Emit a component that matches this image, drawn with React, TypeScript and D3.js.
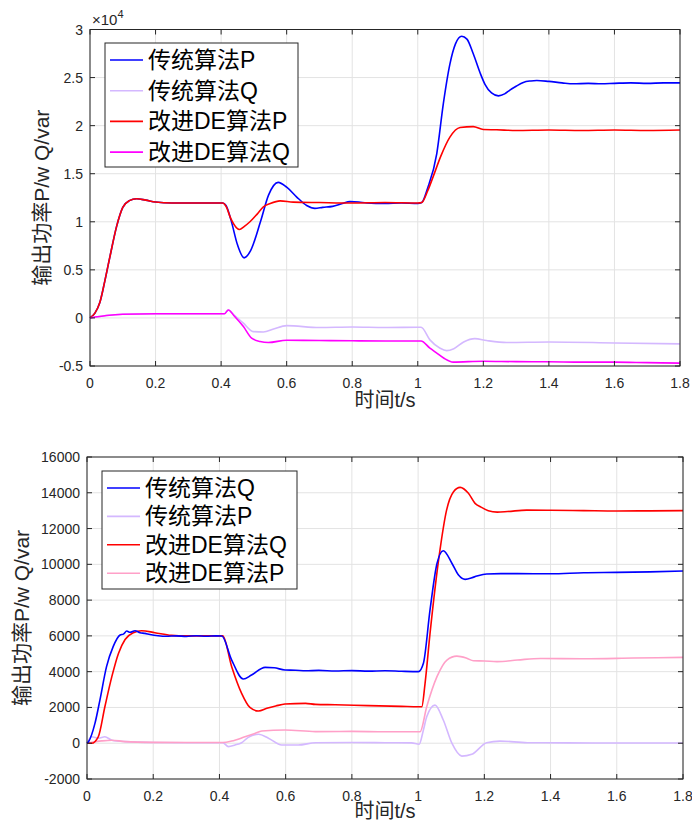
import * as d3 from "d3";
import React from "react";

// ---- top panel (values in 1e4) ----
const topYTicks = [-0.5, 0, 0.5, 1, 1.5, 2, 2.5, 3];
const xTicks = [0, 0.2, 0.4, 0.6, 0.8, 1, 1.2, 1.4, 1.6, 1.8];
const bottomYTicks = [-2000, 0, 2000, 4000, 6000, 8000, 10000, 12000, 14000, 16000];

const topNames = ["传统算法P", "传统算法Q", "改进DE算法P", "改进DE算法Q"];
const topColors = ["#0000ff", "#d4b8ff", "#ff0000", "#ff00ff"];

const topP1T = [0, 0.015, 0.03, 0.045, 0.061, 0.081, 0.1, 0.12, 0.142, 0.17, 0.2, 0.25, 0.3, 0.35, 0.405, 0.415, 0.43, 0.45, 0.47, 0.49, 0.52, 0.545, 0.574, 0.6, 0.63, 0.661, 0.686, 0.71, 0.74, 0.77, 0.793, 0.82, 0.844, 0.9, 0.95, 1.0, 1.012, 1.03, 1.058, 1.078, 1.098, 1.115, 1.134, 1.15, 1.169, 1.19, 1.205, 1.225, 1.246, 1.265, 1.281, 1.3, 1.322, 1.345, 1.363, 1.4, 1.44, 1.475, 1.52, 1.56, 1.6, 1.65, 1.7, 1.75, 1.8];
const topP1V = [0, 0.05, 0.16, 0.38, 0.64, 0.95, 1.15, 1.22, 1.24, 1.225, 1.205, 1.195, 1.195, 1.195, 1.195, 1.17, 1.02, 0.76, 0.625, 0.7, 1.0, 1.28, 1.41, 1.36, 1.26, 1.17, 1.14, 1.15, 1.16, 1.19, 1.21, 1.205, 1.196, 1.19, 1.195, 1.19, 1.2, 1.35, 1.71, 2.23, 2.64, 2.85, 2.93, 2.9, 2.75, 2.55, 2.43, 2.34, 2.31, 2.33, 2.37, 2.41, 2.45, 2.465, 2.47, 2.46, 2.445, 2.435, 2.44, 2.435, 2.44, 2.445, 2.44, 2.445, 2.445];

const topQ1T = [0, 0.05, 0.1, 0.2, 0.41, 0.422, 0.44, 0.468, 0.498, 0.529, 0.56, 0.6, 0.7, 0.8, 0.9, 1.01, 1.037, 1.068, 1.088, 1.11, 1.14, 1.174, 1.21, 1.271, 1.4, 1.6, 1.8];
const topQ1V = [0, 0.025, 0.038, 0.043, 0.043, 0.083, 0.03, -0.055, -0.142, -0.146, -0.115, -0.08, -0.1, -0.095, -0.1, -0.097, -0.228, -0.315, -0.34, -0.32, -0.25, -0.215, -0.235, -0.256, -0.25, -0.26, -0.27];

const topP2T = [0, 0.015, 0.03, 0.045, 0.061, 0.081, 0.1, 0.12, 0.142, 0.17, 0.2, 0.25, 0.3, 0.35, 0.405, 0.415, 0.43, 0.456, 0.47, 0.488, 0.51, 0.529, 0.55, 0.58, 0.62, 0.7, 0.8, 0.9, 1.0, 1.012, 1.03, 1.047, 1.07, 1.098, 1.129, 1.169, 1.2, 1.24, 1.3, 1.4, 1.5, 1.6, 1.7, 1.8];
const topP2V = [0, 0.05, 0.16, 0.38, 0.64, 0.95, 1.15, 1.22, 1.24, 1.225, 1.205, 1.195, 1.195, 1.195, 1.195, 1.16, 1.03, 0.92, 0.95, 1.0, 1.08, 1.155, 1.19, 1.217, 1.205, 1.2, 1.195, 1.2, 1.195, 1.2, 1.32, 1.47, 1.68, 1.88, 1.98, 1.99, 1.96, 1.957, 1.95, 1.955, 1.95, 1.955, 1.95, 1.955];

const topQ2T = [0, 0.05, 0.1, 0.2, 0.41, 0.422, 0.44, 0.468, 0.493, 0.519, 0.544, 0.6, 0.7, 0.8, 0.9, 1.01, 1.037, 1.058, 1.08, 1.108, 1.2, 1.3, 1.4, 1.5, 1.6, 1.7, 1.8];
const topQ2V = [0, 0.025, 0.038, 0.043, 0.043, 0.083, 0.02, -0.09, -0.21, -0.245, -0.256, -0.232, -0.235, -0.238, -0.24, -0.24, -0.315, -0.366, -0.42, -0.46, -0.45, -0.455, -0.456, -0.46, -0.46, -0.465, -0.47];

// ---- bottom panel ----
const botNames = ["传统算法Q", "传统算法P", "改进DE算法Q", "改进DE算法P"];
const botColors = ["#0000ff", "#d4b8ff", "#ff0000", "#ffa0c8"];

const botQ1T = [0, 0.005, 0.024, 0.039, 0.059, 0.079, 0.1, 0.11, 0.12, 0.13, 0.145, 0.16, 0.175, 0.19, 0.215, 0.24, 0.27, 0.3, 0.33, 0.36, 0.39, 0.407, 0.437, 0.472, 0.497, 0.538, 0.565, 0.598, 0.63, 0.66, 0.7, 0.75, 0.8, 0.85, 0.9, 0.95, 1.001, 1.016, 1.036, 1.057, 1.076, 1.102, 1.122, 1.142, 1.17, 1.207, 1.25, 1.3, 1.4, 1.5, 1.6, 1.7, 1.8];
const botQ1V = [0, 100, 1110, 2410, 4280, 5400, 6050, 6100, 6270, 6200, 6290, 6180, 6140, 6080, 6010, 5980, 6000, 5970, 6010, 5980, 6000, 5990, 4650, 3590, 3810, 4240, 4220, 4090, 4080, 4050, 4070, 4040, 4060, 4030, 4050, 4020, 4000, 4470, 7450, 10050, 10760, 10060, 9400, 9160, 9300, 9460, 9480, 9480, 9470, 9530, 9550, 9580, 9630];

const botP1T = [0, 0.014, 0.035, 0.054, 0.075, 0.115, 0.2, 0.3, 0.41, 0.427, 0.447, 0.467, 0.487, 0.518, 0.548, 0.588, 0.638, 0.69, 0.8, 0.9, 0.98, 1.003, 1.016, 1.026, 1.051, 1.076, 1.102, 1.132, 1.162, 1.207, 1.247, 1.33, 1.45, 1.6, 1.8];
const botP1V = [0, 360, 280, 360, 170, 90, 40, 30, 30, -190, -100, 30, 330, 500, 280, -100, -100, 30, 40, 30, 20, -60, 740, 1480, 2130, 1300, 0, -720, -620, 30, 120, 30, 20, 10, 10];

const botQ2T = [0, 0.014, 0.034, 0.054, 0.075, 0.095, 0.115, 0.14, 0.165, 0.205, 0.255, 0.3, 0.41, 0.437, 0.467, 0.492, 0.518, 0.543, 0.57, 0.598, 0.66, 0.69, 0.75, 0.85, 0.95, 1.0, 1.011, 1.021, 1.036, 1.066, 1.086, 1.107, 1.127, 1.152, 1.172, 1.19, 1.212, 1.239, 1.27, 1.328, 1.4, 1.5, 1.6, 1.7, 1.8];
const botQ2V = [0, 0, 360, 2040, 3720, 5020, 5800, 6180, 6290, 6180, 6030, 6000, 6000, 4280, 2790, 2000, 1800, 1950, 2080, 2190, 2230, 2170, 2150, 2100, 2060, 2040, 2040, 3350, 6140, 10800, 13030, 14060, 14300, 13970, 13410, 13200, 13000, 12920, 12950, 13030, 13020, 13000, 12980, 12990, 13000];

const botP2T = [0, 0.045, 0.075, 0.115, 0.2, 0.3, 0.41, 0.437, 0.477, 0.507, 0.528, 0.598, 0.69, 0.8, 0.9, 1.0, 1.006, 1.026, 1.057, 1.087, 1.117, 1.147, 1.167, 1.2, 1.238, 1.3, 1.369, 1.5, 1.65, 1.8];
const botP2V = [0, 130, 170, 90, 50, 40, 40, 120, 360, 550, 680, 740, 650, 660, 640, 640, 640, 2040, 3720, 4650, 4870, 4750, 4610, 4600, 4560, 4650, 4740, 4720, 4760, 4800];

const zip = (t: number[], v: number[]) => t.map((d, i) => [d, v[i]] as [number, number]);

const LATIN = "'Liberation Sans', Arial, 'Noto Sans CJK SC', sans-serif";
const AXIS = "#262626";

function Panel({ box, yDomain, yTicks, series, order, names, colors, legend, yLabelX, xLabelY, exp }: any) {
    const x = d3.scaleLinear().domain([0, 1.8]).range([box.left, box.right]);
    const y = d3.scaleLinear().domain(yDomain).range([box.bottom, box.top]);
    const line = d3
        .line<[number, number]>()
        .x((d) => x(d[0]))
        .y((d) => y(d[1]))
        .curve(d3.curveMonotoneX);
    const tick = 5;
    const cy = (box.top + box.bottom) / 2;
    return (
        <g>
            {/* grid */}
            {xTicks.map((t) => (
                <line key={"gx" + t} x1={x(t)} x2={x(t)} y1={box.top} y2={box.bottom} stroke="#e3e3e3" />
            ))}
            {yTicks.map((t: number) => (
                <line key={"gy" + t} x1={box.left} x2={box.right} y1={y(t)} y2={y(t)} stroke="#e3e3e3" />
            ))}
            {/* series */}
            {order.map((i: number) => (
                <path key={"s" + i} d={line(series[i]) || ""} fill="none" stroke={colors[i]} strokeWidth={1.6} strokeLinejoin="round" />
            ))}
            {/* box + ticks */}
            <rect x={box.left} y={box.top} width={box.right - box.left} height={box.bottom - box.top} fill="none" stroke={AXIS} />
            {xTicks.map((t) => (
                <g key={"tx" + t}>
                    <line x1={x(t)} x2={x(t)} y1={box.bottom} y2={box.bottom - tick} stroke={AXIS} />
                    <line x1={x(t)} x2={x(t)} y1={box.top} y2={box.top + tick} stroke={AXIS} />
                    <text x={x(t)} y={box.bottom + 22} textAnchor="middle" fontSize={14} fill={AXIS} fontFamily={LATIN}>
                        {String(t)}
                    </text>
                </g>
            ))}
            {yTicks.map((t: number) => (
                <g key={"ty" + t}>
                    <line x1={box.left} x2={box.left + tick} y1={y(t)} y2={y(t)} stroke={AXIS} />
                    <line x1={box.right} x2={box.right - tick} y1={y(t)} y2={y(t)} stroke={AXIS} />
                    <text x={box.left - 7} y={y(t) + 5} textAnchor="end" fontSize={14} fill={AXIS} fontFamily={LATIN}>
                        {String(t)}
                    </text>
                </g>
            ))}
            {exp && (
                <text x={box.left + 2} y={box.top - 5} fontSize={15} fill={AXIS} fontFamily={LATIN}>
                    ×10<tspan dy={-7} fontSize={11}>4</tspan>
                </text>
            )}
            {/* axis labels */}
            <text x={(box.left + box.right) / 2} y={xLabelY} textAnchor="middle" fontSize={20} fill={AXIS} fontFamily={LATIN}>
                时间t/s
            </text>
            <text
                transform={`translate(${yLabelX},${cy}) rotate(-90)`}
                textAnchor="middle"
                fontSize={21}
                fill={AXIS}
                fontFamily={LATIN}
            >
                输出功率P/w Q/var
            </text>
            {/* legend */}
            <rect x={legend.x} y={legend.y} width={legend.w} height={legend.h} fill="#ffffff" stroke={AXIS} />
            {names.map((n: string, i: number) => (
                <g key={"l" + i}>
                    <line
                        x1={legend.x + 5}
                        x2={legend.x + 38}
                        y1={legend.first + i * legend.step}
                        y2={legend.first + i * legend.step}
                        stroke={colors[i]}
                        strokeWidth={1.6}
                    />
                    <text x={legend.x + 43} y={legend.first + i * legend.step + 8} fontSize={23} fill="#000" fontFamily={LATIN}>
                        {n}
                    </text>
                </g>
            ))}
        </g>
    );
}

export default function App() {
    const topSeries = [zip(topP1T, topP1V), zip(topQ1T, topQ1V), zip(topP2T, topP2V), zip(topQ2T, topQ2V)];
    const botSeries = [zip(botQ1T, botQ1V), zip(botP1T, botP1V), zip(botQ2T, botQ2V), zip(botP2T, botP2V)];
    return (
        <svg width={692} height={824} style={{ position: "absolute", left: 0, top: 0, background: "#fff" }}>
            <Panel
                box={{ left: 90, right: 680, top: 29.5, bottom: 366 }}
                yDomain={[-0.5, 3]}
                yTicks={topYTicks}
                series={topSeries}
                order={[0, 2, 1, 3]}
                names={topNames}
                colors={topColors}
                legend={{ x: 105, y: 43, w: 193, h: 124, first: 60, step: 30.7 }}
                yLabelX={49}
                xLabelY={407}
                exp
            />
            <Panel
                box={{ left: 87, right: 683, top: 457, bottom: 779 }}
                yDomain={[-2000, 16000]}
                yTicks={bottomYTicks}
                series={botSeries}
                order={[1, 3, 2, 0]}
                names={botNames}
                colors={botColors}
                legend={{ x: 102, y: 471, w: 195, h: 118, first: 488, step: 28.4 }}
                yLabelX={29}
                xLabelY={818}
            />
        </svg>
    );
}
